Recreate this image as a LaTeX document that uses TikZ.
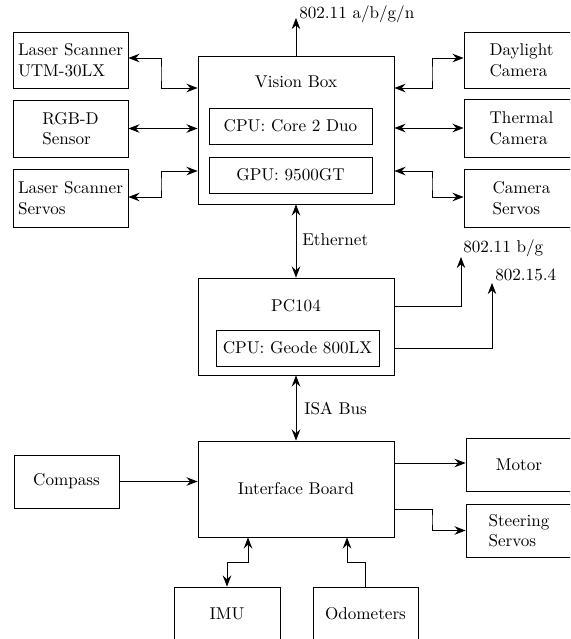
\documentclass[tikz,border=0pt]{standalone}
\usetikzlibrary{arrows.meta}
\begin{document}
\begin{tikzpicture}[x=0.5848pt,y=-0.5848pt,
  every node/.style={inner sep=1pt, font=\normalsize},
  box/.style={draw, line width=0.5pt, inner sep=2pt},
  sz/.style 2 args={minimum width=#1*0.5848pt, minimum height=#2*0.5848pt},
  sarr/.style={line width=0.5pt, -{Stealth[length=6.5pt,width=5pt,inset=2.2pt]}},
  dbl/.style={line width=0.5pt, {Stealth[length=6.5pt,width=5pt,inset=2.2pt]}-{Stealth[length=6.5pt,width=5pt,inset=2.2pt]}},
  lbl/.style={anchor=west, inner sep=0pt}]
\useasboundingbox (0,0) rectangle (570,639);
\clip (0,0) rectangle (570,639);

% left boxes
\node[box, sz={115}{56}, align=left] (ls1) at (70.5,60) {Laser Scanner\\UTM-30LX};
\node[box, sz={115}{57}, align=left] (rgbd) at (70.5,128.5) {RGB-D\\Sensor};
\node[box, sz={115}{58}, align=left] (ls2) at (70.5,198) {Laser Scanner\\Servos};

% right boxes
\node[box, sz={115}{56}, align=left] (dc) at (521.5,60) {Daylight\\Camera};
\node[box, sz={115}{58}, align=left] (tc) at (521.5,128) {Thermal\\Camera};
\node[box, sz={115}{58}, align=left] (cs) at (521.5,198) {Camera\\Servos};

% vision box
\node[box, sz={196}{148}] (vb) at (296,130) {};
\node (vbl) at (296,82) {Vision Box};
\node[box, sz={163}{36}] (cpu) at (290.5,126) {CPU: Core 2 Duo};
\node[box, sz={163}{36}] (gpu) at (290.5,175) {GPU: 9500GT};

% PC104
\node[box, sz={196}{97}] (pc) at (296,326.5) {};
\node (pcl) at (296,306) {PC104};
\node[box, sz={163}{36}] (geo) at (297.5,348) {CPU: Geode 800LX};

% interface board
\node[box, sz={196}{96}] (ib) at (296,489) {Interface Board};
\node[box, sz={105}{53}] (comp) at (66.5,481.5) {Compass};
\node[box, sz={106}{53}] (mot) at (519,464.5) {Motor};
\node[box, sz={106}{53}, align=left] (steer) at (519,530.5) {Steering\\Servos};
\node[box, sz={106}{53}] (imu) at (227,613.5) {IMU};
\node[box, sz={105}{53}] (odo) at (365.5,613.5) {Odometers};

% labels
\node[lbl] (w1l) at (299,14) {802.11 a/b/g/n};
\node[lbl] (eth) at (302,240) {Ethernet};
\node[lbl] (w2l) at (463,248) {802.11 b/g};
\node[lbl] (zbl) at (495,275) {802.15.4};
\node[lbl] (isa) at (304,409) {ISA Bus};

\coordinate (w1) at (296,18);
\coordinate (w2) at (461,257);
\coordinate (zb) at (492,283);

% vision box connectors
\draw[sarr] (vb.north) -- (w1);
\draw[dbl] (ls1.east |- 0,58) -| (161,74) |- (vb.west |- 0,88);
\draw[dbl] (rgbd.east) -- (vb.west |- rgbd.east);
\draw[dbl] (ls2.east |- 0,197) -| (161,184) |- (vb.west |- 0,171);
\draw[dbl] (vb.east |- 0,88) -| (432,74) |- (dc.west |- 0,58);
\draw[dbl] (vb.east |- tc.west) -- (tc.west);
\draw[dbl] (vb.east |- 0,171) -| (432,184) |- (cs.west |- 0,197);
\draw[dbl] (vb.south) -- (pc.north);

% PC104 connectors
\draw[sarr] (pc.east |- 0,306) -| (w2);
\draw[sarr] (pc.east |- 0,348) -| (zb);
\draw[dbl] (pc.south) -- (ib.north);

% interface connectors
\draw[sarr] (comp.east) -- (ib.west |- comp.east);
\draw[sarr] (ib.east |- 0,463) -- (mot.west |- 0,463);
\draw[sarr] (ib.east |- 0,509) -| (432,520) |- (steer.west);
\draw[dbl] (ib.south -| 248,0) -- (248,562) -| (imu.north);
\draw[sarr] (odo.north) |- (347,562) -- (ib.south -| 347,0);
\end{tikzpicture}
\end{document}
